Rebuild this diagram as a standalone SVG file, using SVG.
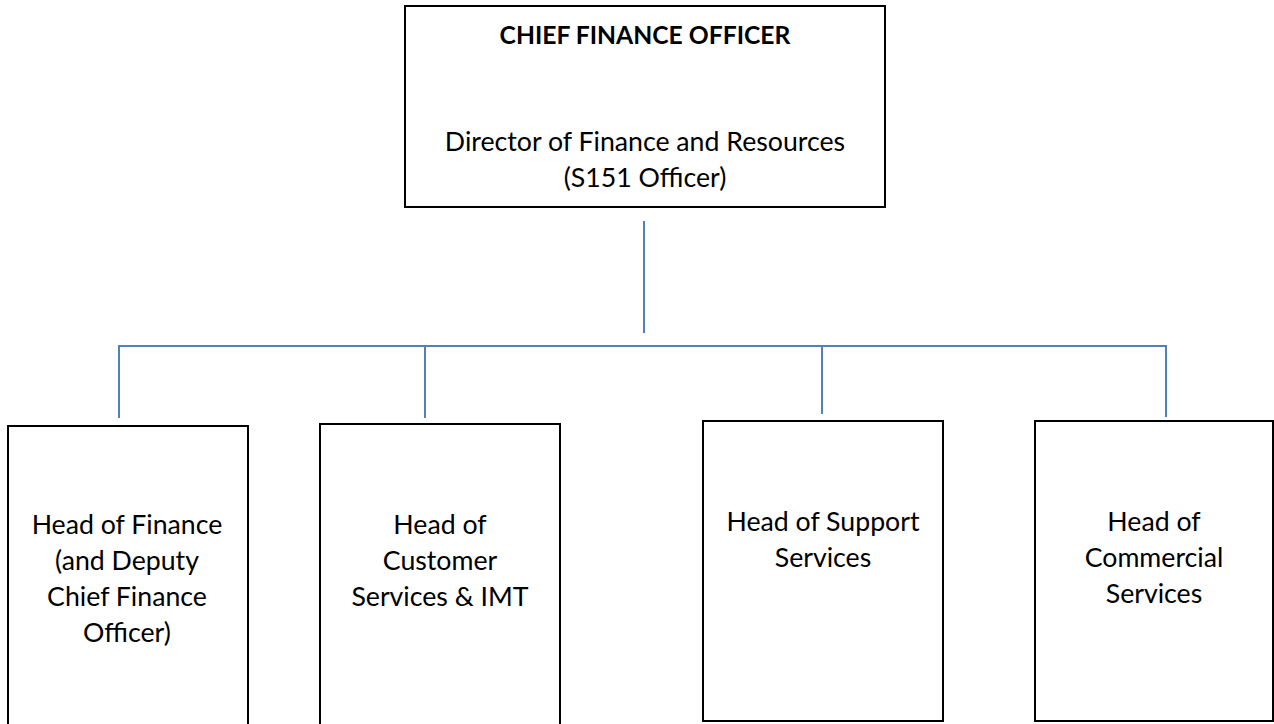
<svg xmlns="http://www.w3.org/2000/svg" width="1274" height="724" viewBox="0 0 1274 724">
  <style>
    .box { fill: #ffffff; stroke: #000000; stroke-width: 2; }
    .link { fill: none; stroke: #4F81BD; stroke-width: 2; }
    text { font-family: Lato, "Open Sans", "Liberation Sans", sans-serif; font-size: 26.7px; fill: #000000; text-anchor: middle; }
    .title { font-weight: bold; font-size: 24.7px; }
  </style>
  <rect width="1274" height="724" fill="#ffffff"/>

  <!-- connectors -->
  <g id="connectors">
    <line class="link" x1="644" y1="221" x2="644" y2="333"/>
    <line class="link" x1="118" y1="346" x2="1166" y2="346"/>
    <line class="link" x1="119" y1="345" x2="119" y2="418"/>
    <line class="link" x1="425" y1="345" x2="425" y2="418"/>
    <line class="link" x1="822" y1="345" x2="822" y2="414"/>
    <line class="link" x1="1166" y1="345" x2="1166" y2="417"/>
  </g>

  <!-- top node -->
  <g id="cfo">
    <rect class="box" x="405" y="6" width="480" height="201"/>
    <text class="title" x="645" y="44">CHIEF FINANCE OFFICER</text>
    <text x="645" y="151">Director of Finance and Resources</text>
    <text x="645" y="187">(S151 Officer)</text>
  </g>

  <!-- direct reports -->
  <g id="head-finance">
    <rect class="box" x="8" y="426" width="240" height="310"/>
    <text x="127" y="534">Head of Finance</text>
    <text x="127" y="570">(and Deputy</text>
    <text x="127" y="606">Chief Finance</text>
    <text x="127" y="642">Officer)</text>
  </g>

  <g id="head-customer">
    <rect class="box" x="320" y="424" width="240" height="312"/>
    <text x="440" y="534">Head of</text>
    <text x="440" y="570">Customer</text>
    <text x="440" y="606">Services &amp; IMT</text>
  </g>

  <g id="head-support">
    <rect class="box" x="703" y="421" width="240" height="300"/>
    <text x="823" y="531">Head of Support</text>
    <text x="823" y="567">Services</text>
  </g>

  <g id="head-commercial">
    <rect class="box" x="1035" y="421" width="238" height="300"/>
    <text x="1154" y="531">Head of</text>
    <text x="1154" y="567">Commercial</text>
    <text x="1154" y="603">Services</text>
  </g>
</svg>
